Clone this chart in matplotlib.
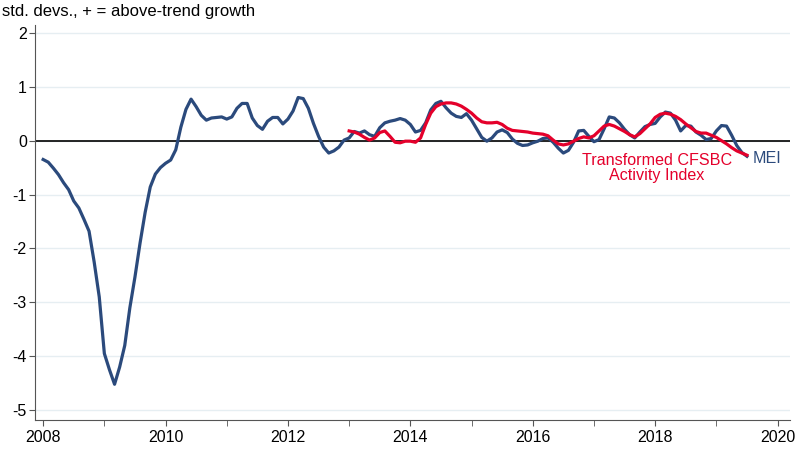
import numpy as np
import matplotlib
matplotlib.use('Agg')
import matplotlib.pyplot as plt

plt.rcParams['font.family'] = ['Liberation Sans', 'DejaVu Sans']
plt.rcParams['axes.unicode_minus'] = False

# monthly MEI, Jan 2008 - Jul 2019
mei = [
    -0.35, -0.40, -0.51, -0.63, -0.78, -0.91, -1.12, -1.25, -1.46, -1.68, -2.25, -2.90,
    -3.95, -4.25, -4.52, -4.20, -3.80, -3.10, -2.53, -1.90, -1.33, -0.86, -0.62, -0.50,
    -0.42, -0.36, -0.17, 0.25, 0.58, 0.77, 0.63, 0.47, 0.38, 0.42, 0.43, 0.44,
    0.40, 0.44, 0.60, 0.69, 0.69, 0.42, 0.28, 0.21, 0.36, 0.43, 0.43, 0.31,
    0.40, 0.55, 0.80, 0.78, 0.60, 0.32, 0.08, -0.12, -0.23, -0.19, -0.12, 0.01,
    0.05, 0.17, 0.14, 0.18, 0.11, 0.08, 0.24, 0.33, 0.36, 0.38, 0.41, 0.38,
    0.30, 0.16, 0.19, 0.33, 0.57, 0.69, 0.73, 0.61, 0.51, 0.45, 0.43, 0.50,
    0.38, 0.22, 0.06, -0.01, 0.05, 0.16, 0.20, 0.15, 0.03, -0.05, -0.09, -0.08,
    -0.04, -0.01, 0.04, 0.05, -0.03, -0.14, -0.23, -0.18, -0.03, 0.18, 0.19, 0.08,
    -0.02, 0.02, 0.22, 0.44, 0.42, 0.33, 0.21, 0.11, 0.05, 0.16, 0.26, 0.30,
    0.32, 0.44, 0.53, 0.51, 0.38, 0.18, 0.28, 0.27, 0.16, 0.10, 0.02, 0.04,
    0.18, 0.28, 0.27, 0.10, -0.09, -0.22, -0.29,
]

# transformed CFSBC activity index, Jan 2013 - Jul 2019
cfsbc = [
    0.18, 0.16, 0.12, 0.06, 0.01, 0.05, 0.15, 0.18, 0.08, -0.03, -0.04, -0.01,
    -0.01, -0.03, 0.05, 0.30, 0.51, 0.63, 0.68, 0.70, 0.70, 0.68, 0.64, 0.58,
    0.51, 0.42, 0.35, 0.33, 0.33, 0.34, 0.30, 0.23, 0.19, 0.18, 0.17, 0.16,
    0.14, 0.13, 0.12, 0.09, 0.01, -0.06, -0.08, -0.06, -0.01, 0.04, 0.07, 0.05,
    0.09, 0.18, 0.27, 0.30, 0.27, 0.22, 0.17, 0.11, 0.07, 0.13, 0.22, 0.31,
    0.43, 0.49, 0.51, 0.49, 0.45, 0.39, 0.31, 0.24, 0.17, 0.14, 0.14, 0.10,
    0.06, 0.00, -0.06, -0.13, -0.19, -0.23, -0.27,
]

mei_x = 2008 + np.arange(len(mei)) / 12.
cfsbc_x = 2013 + np.arange(len(cfsbc)) / 12.

blue = '#2b4a7c'
red = '#e4002b'

fig = plt.figure(figsize=(8, 4.5), dpi=100)
ax = fig.add_axes([0.044, 0.067, 0.944, 0.878])

#light gridlines + zero line
for yv in range(-5, 3):
    ax.axhline(yv, color='#e6eef2', lw=1.0, zorder=0)
ax.axhline(0, color='black', lw=1.2, zorder=1)

ax.plot(mei_x, mei, color=blue, lw=2.3, zorder=3)
ax.plot(cfsbc_x, cfsbc, color=red, lw=2.3, zorder=4)

ax.text(2018.03, -0.51, 'Transformed CFSBC\nActivity Index', color=red,
        ha='center', va='center', fontsize=11.6, linespacing=1.0)
ax.text(2019.60, -0.33, 'MEI', color=blue, ha='left', va='center', fontsize=11.6)

ax.set_xlim(2007.87, 2020.21)
ax.set_ylim(-5.18, 2.15)
ax.set_xticks(range(2008, 2021, 2))
ax.set_xticks(range(2009, 2021, 2), minor=True)
ax.set_yticks(range(-5, 3))
ax.tick_params(axis='both', which='both', direction='out', length=4, color='#555555',
               labelsize=11.5)
ax.tick_params(axis='y', pad=2)

for side in ['top', 'right']:
    ax.spines[side].set_visible(False)
for side in ['left', 'bottom']:
    ax.spines[side].set_color('#555555')

fig.text(0.003, 0.975, 'std. devs., + = above-trend growth', ha='left', va='center',
         fontsize=12)

fig.savefig('out.png', dpi=100)
